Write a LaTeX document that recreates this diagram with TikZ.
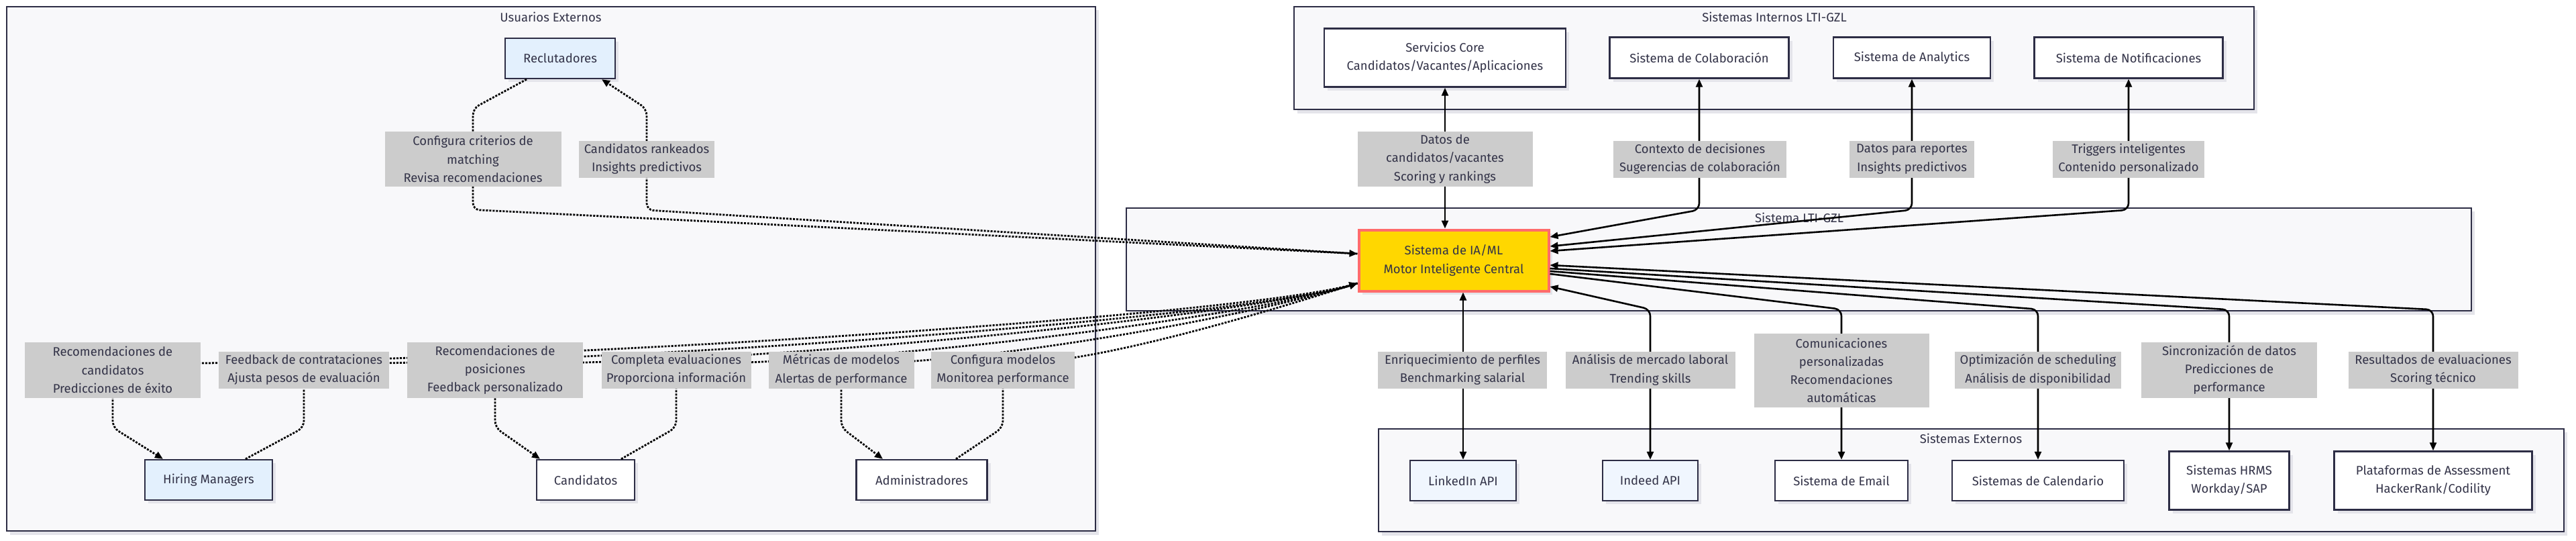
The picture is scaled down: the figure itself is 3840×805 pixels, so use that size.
\documentclass[tikz,border=0pt]{standalone}
\usepackage{fontspec}
\setmainfont{Fira Sans}
\usetikzlibrary{arrows.meta,calc,shadows}
\pgfdeclarelayer{bglayer}
\pgfdeclarelayer{edgelayer}
\pgfdeclarelayer{lbllayer}
\pgfsetlayers{bglayer,main,edgelayer,lbllayer}
\definecolor{txt}{HTML}{333348}
\definecolor{bord}{HTML}{2D2D45}
\definecolor{clbg}{HTML}{F8F8FA}
\definecolor{shc}{HTML}{E4E4EA}
\definecolor{lblc}{HTML}{CCCCCC}
\definecolor{blueA}{HTML}{E3F0FD}
\definecolor{blueB}{HTML}{F0F6FE}
\definecolor{goldc}{HTML}{FFD700}
\definecolor{redb}{HTML}{FF6B6B}
\begin{document}
\begin{tikzpicture}[x=0.5pt,y=-0.5pt,
 >={Triangle[length=6pt,width=5pt]},
 every node/.style={font=\fontsize{9.25pt}{13.6pt}\selectfont, text=txt},
 box/.style={draw=bord, line width=1.2pt, fill=white, align=center, inner sep=0pt,
   drop shadow={shadow xshift=2.5pt,shadow yshift=-2.5pt,fill=shc,opacity=1}},
 lbl/.style={fill=lblc, align=center, inner sep=0pt},
 ctitle/.style={inner sep=0pt},
 cluster/.style={draw=bord, line width=1pt, fill=clbg},
 dotline/.style={draw=black, line width=1.4pt, dash pattern=on 1.5pt off 1pt, rounded corners=5pt},
 solline/.style={draw=black, line width=1.3pt, rounded corners=5pt},
]
\useasboundingbox (0,0) rectangle (3840,805);

% ---------- nodes ----------
\node[box, fill=blueA, minimum width=82pt, minimum height=30pt] (recl) at (835,87) {Reclutadores};
\node[box, fill=blueA, minimum width=95pt, minimum height=30pt] (hm) at (311,715) {Hiring Managers};
\node[box, minimum width=73pt, minimum height=30pt] (cand) at (873,715) {Candidatos};
\node[box, minimum width=97.5pt, minimum height=30pt] (admin) at (1374,715) {Administradores};
\node[box, minimum width=180pt, minimum height=43.5pt] (core) at (2154,86) {Servicios Core\\Candidatos/Vacantes/Aplicaciones};
\node[box, minimum width=133.5pt, minimum height=30.5pt] (colab) at (2533,86) {Sistema de Colaboración};
\node[box, minimum width=117pt, minimum height=30.5pt] (analytics) at (2850,86) {Sistema de Analytics};
\node[box, minimum width=140.5pt, minimum height=30.5pt] (notif) at (3173,86) {Sistema de Notificaciones};
\node[box, fill=goldc, draw=redb, line width=2pt, minimum width=141.5pt, minimum height=45.5pt] (ia) at (2167,388) {Sistema de IA/ML\\Motor Inteligente Central};
\node[box, fill=blueB, minimum width=79pt, minimum height=30pt] (linkedin) at (2181,716) {LinkedIn API};
\node[box, fill=blueB, minimum width=71pt, minimum height=30pt] (indeed) at (2460,716) {Indeed API};
\node[box, minimum width=99pt, minimum height=30pt] (email) at (2745,716) {Sistema de Email};
\node[box, minimum width=128pt, minimum height=30pt] (cal) at (3038,716) {Sistemas de Calendario};
\node[box, minimum width=89.5pt, minimum height=43.5pt] (hrms) at (3323,716) {Sistemas HRMS\\Workday/SAP};
\node[box, minimum width=147.5pt, minimum height=43.5pt] (assess) at (3627,716) {Plataformas de Assessment\\HackerRank/Codility};

% ---------- clusters ----------
\begin{pgfonlayer}{bglayer}
\fill[white] (0,0) rectangle (3840,805);
\fill[shc] (15,15) rectangle (1638,797);
\filldraw[cluster] (10,10) rectangle (1633,791);
\node[ctitle] (tue) at (821,25) {Usuarios Externos};
\fill[shc] (1934,15) rectangle (3365,169);
\filldraw[cluster] (1929,10) rectangle (3360,163);
\node[ctitle] (tsi) at (2645,25) {Sistemas Internos LTI-GZL};
\fill[shc] (1684,315) rectangle (3689,469);
\filldraw[cluster] (1679,310) rectangle (3684,463);
\node[ctitle] (tsl) at (2682,324) {Sistema LTI-GZL};
\fill[shc] (2060,644) rectangle (3827,798);
\filldraw[cluster] (2055,639) rectangle (3822,792);
\node[ctitle] (tse) at (2938,653) {Sistemas Externos};
\end{pgfonlayer}

% ---------- labels ----------
\begin{pgfonlayer}{lbllayer}
\node[lbl, minimum width=131.5pt, minimum height=41pt] (lr1) at (705,237) {Configura criterios de\\matching\\Revisa recomendaciones};
\node[lbl, minimum width=101pt, minimum height=27.5pt] (lr2) at (964,237) {Candidatos rankeados\\Insights predictivos};
\node[lbl, minimum width=131pt, minimum height=41.5pt] (lb1) at (168,551) {Recomendaciones de\\candidatos\\Predicciones de éxito};
\node[lbl, minimum width=127pt, minimum height=27.5pt] (lb2) at (453,551) {Feedback de contrataciones\\Ajusta pesos de evaluación};
\node[lbl, minimum width=131pt, minimum height=41.5pt] (lb3) at (738,551) {Recomendaciones de\\posiciones\\Feedback personalizado};
\node[lbl, minimum width=111.5pt, minimum height=27.5pt] (lb4) at (1008,551) {Completa evaluaciones\\Proporciona información};
\node[lbl, minimum width=108.5pt, minimum height=27.5pt] (lb5) at (1254,551) {Métricas de modelos\\Alertas de performance};
\node[lbl, minimum width=107pt, minimum height=27.5pt] (lb6) at (1495,551) {Configura modelos\\Monitorea performance};
\node[lbl, minimum width=130.5pt, minimum height=41pt] (li1) at (2154,237) {Datos de\\candidatos/vacantes\\Scoring y rankings};
\node[lbl, minimum width=129pt, minimum height=27.5pt] (li2) at (2534,237) {Contexto de decisiones\\Sugerencias de colaboración};
\node[lbl, minimum width=93pt, minimum height=27.5pt] (li3) at (2850,237) {Datos para reportes\\Insights predictivos};
\node[lbl, minimum width=113pt, minimum height=27.5pt] (li4) at (3173,237) {Triggers inteligentes\\Contenido personalizado};
\node[lbl, minimum width=126pt, minimum height=27.5pt] (le1) at (2180,551) {Enriquecimiento de perfiles\\Benchmarking salarial};
\node[lbl, minimum width=126.5pt, minimum height=27.5pt] (le2) at (2460,551) {Análisis de mercado laboral\\Trending skills};
\node[lbl, minimum width=130.5pt, minimum height=55pt] (le3) at (2745,552) {Comunicaciones\\personalizadas\\Recomendaciones\\automáticas};
\node[lbl, minimum width=124pt, minimum height=27.5pt] (le4) at (3038,551) {Optimización de scheduling\\Análisis de disponibilidad};
\node[lbl, minimum width=131pt, minimum height=41.5pt] (le5) at (3323,551) {Sincronización de datos\\Predicciones de\\performance};
\node[lbl, minimum width=126.5pt, minimum height=27.5pt] (le6) at (3627,551) {Resultados de evaluaciones\\Scoring técnico};
\end{pgfonlayer}

% ---------- edges ----------
\begin{pgfonlayer}{edgelayer}
\coordinate (iain) at ($(ia.west)+(0,34)$);
% Reclutadores
\draw[dotline,->] ($(recl.south)+(-50,0)$) -- ($(lr1.north)+(0,-34)$) -- ($(lr1.south)+(0,34)$) -- ($(ia.west)+(0,-10)$);
\draw[dotline,->] ($(ia.west)+(0,-10)$) -- ($(lr2.south)+(0,48)$) -- ($(lr2.north)+(0,-47)$) -- ($(recl.south)+(62,0)$);
% Hiring Managers
\draw[dotline,->] (iain) .. controls (1870,470) and (764,542) .. ($(lb1.center)+(0,-9)$) -- ($(lb1.south)+(0,44)$) -- ($(hm.north)+(-68,0)$);
\draw[dotline,->] ($(hm.north)+(55,0)$) -- ($(lb2.south)+(0,58)$) -- ($(lb2.center)+(0,-9)$) .. controls (952,542) and (1870,470) .. (iain);
% Candidatos
\draw[dotline,->] (iain) .. controls (1870,470) and (1138,542) .. ($(lb3.center)+(0,-9)$) -- ($(lb3.south)+(0,44)$) -- ($(cand.north)+(-68,0)$);
\draw[dotline,->] ($(cand.north)+(53,0)$) -- ($(lb4.south)+(0,58)$) -- ($(lb4.center)+(0,-9)$) .. controls (1313,542) and (1870,470) .. (iain);
% Administradores
\draw[dotline,->] (iain) .. controls (1870,470) and (1473,542) .. ($(lb5.center)+(0,-9)$) -- ($(lb5.south)+(0,58)$) -- ($(admin.north)+(-58,0)$);
\draw[dotline,->] ($(admin.north)+(51,0)$) -- ($(lb6.south)+(0,58)$) -- ($(lb6.center)+(0,-9)$) .. controls (1630,542) and (1870,470) .. (iain);
% Sistemas internos
\draw[solline,<->] (core.south |- ia.north) -- (core.south);
\draw[solline,<->] ($(ia.east)+(0,-35)$) -- ($(colab.south)+(0,195)$) -- (colab.south);
\draw[solline,<->] ($(ia.east)+(0,-21)$) -- ($(analytics.south)+(0,195)$) -- (analytics.south);
\draw[solline,<->] ($(ia.east)+(0,-14)$) -- ($(notif.south)+(0,195)$) -- (notif.south);
% Sistemas externos
\draw[solline,<->] (linkedin.north |- ia.south) -- (linkedin.north);
\draw[solline,<->] ($(ia.east)+(0,39)$) -- ($(indeed.north)+(0,-224)$) -- (indeed.north);
\draw[solline,->] ($(ia.east)+(0,20)$) -- ($(email.north)+(0,-224)$) -- (email.north);
\draw[solline,->] ($(ia.east)+(0,16)$) -- ($(cal.north)+(0,-224)$) -- (cal.north);
\draw[solline,->] ($(ia.east)+(0,12)$) -- ($(hrms.north)+(0,-210)$) -- (hrms.north);
\draw[solline,<->] ($(ia.east)+(0,7)$) -- ($(assess.north)+(0,-210)$) -- (assess.north);
\end{pgfonlayer}
\end{tikzpicture}
\end{document}
